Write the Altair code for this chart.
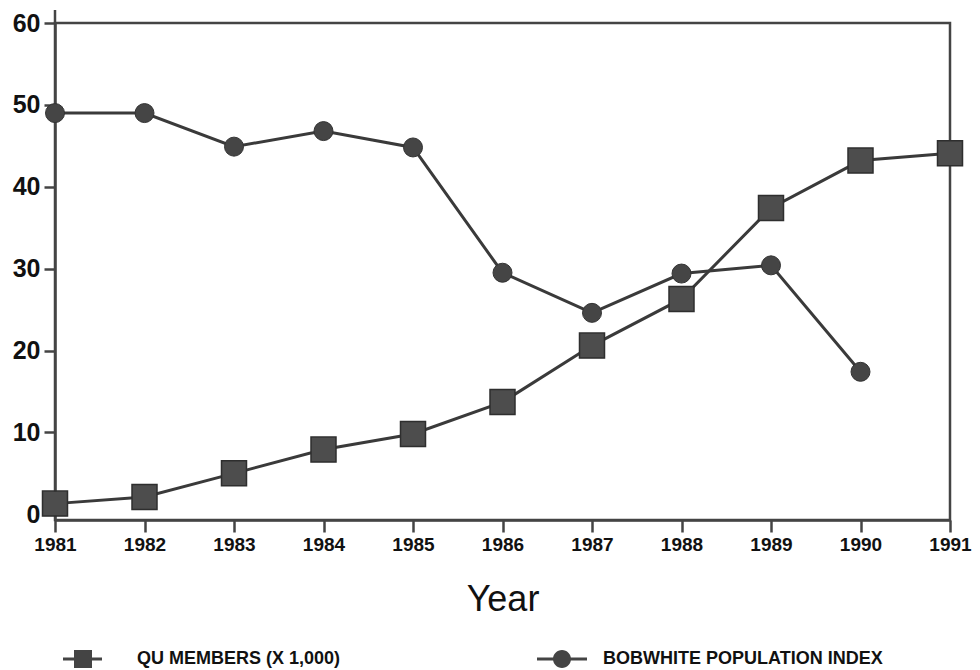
import altair as alt
import pandas as pd

years = [1981, 1982, 1983, 1984, 1985, 1986, 1987, 1988, 1989, 1990, 1991]
qu_members = [1.3, 2.1, 5.0, 7.9, 9.8, 13.7, 20.6, 26.3, 37.4, 43.2, 44.1]
bob_years = [1981, 1982, 1983, 1984, 1985, 1986, 1987, 1988, 1989, 1990]
bobwhite = [49.0, 49.0, 44.9, 46.8, 44.8, 29.5, 24.6, 29.4, 30.4, 17.4]
y_ticks = [0, 10, 20, 30, 40, 50, 60]

S1 = "QU MEMBERS (X 1,000)"
S2 = "BOBWHITE POPULATION INDEX"

df = pd.DataFrame({
    "year": years + bob_years,
    "value": qu_members + bobwhite,
    "series": [S1] * len(years) + [S2] * len(bob_years),
})

FONT = "Liberation Sans"
INK = "#3a3a3a"

x = alt.X("year:Q",
          scale=alt.Scale(domain=[1981, 1991], nice=False, zero=False),
          axis=alt.Axis(values=years, format="d", title="Year",
                        labelFont=FONT, labelFontSize=19, labelFontWeight="bold",
                        labelColor="#111", tickSize=12, labelPadding=3,
                        labelFlush=False, labelOverlap=False,
                        titleFont=FONT, titleFontSize=36, titleFontWeight="normal",
                        titleColor="#111", titlePadding=28))
y = alt.Y("value:Q",
          scale=alt.Scale(domain=[-0.7, 60], nice=False, zero=False),
          axis=alt.Axis(values=y_ticks, title=None,
                        labelFont=FONT, labelFontSize=25, labelFontWeight="bold",
                        labelColor="#111", tickSize=11, labelPadding=4,
                        labelFlush=False))

base = alt.Chart(df)

lines = base.mark_line(color=INK, strokeWidth=3).encode(x=x, y=y, detail="series:N")

squares = base.transform_filter(alt.datum.series == S1).mark_point(
    shape="square", filled=True, size=625, opacity=1,
    color="#4d4d4d", stroke="#2e2e2e", strokeWidth=1.5
).encode(x=x, y=y)

circles = base.transform_filter(alt.datum.series == S2).mark_point(
    shape="circle", filled=True, size=361, opacity=1,
    color="#454545", stroke="#333333", strokeWidth=1
).encode(x=x, y=y)

# legend glyphs: line drawn as a thin filled bar, plus square / circle
path_qu = ("M-1.32,-0.06H0.24V0.06H-1.32Z"
           "M-0.88,-0.36H-0.16V0.36H-0.88Z")
path_bob = ("M-1,-0.06H1V0.06H-1Z"
            "M-0.36,0A0.36,0.36 0 1,1 0.36,0A0.36,0.36 0 1,1 -0.36,0Z")

legend_layer = base.mark_point(filled=True, opacity=0, color="#444").encode(
    x=x, y=y,
    shape=alt.Shape("series:N",
                    scale=alt.Scale(domain=[S1, S2], range=[path_qu, path_bob]),
                    legend=alt.Legend(orient="none", legendX=16, legendY=611,
                                      direction="horizontal", title=None,
                                      symbolSize=2500, symbolOpacity=1,
                                      symbolFillColor="#3d3d3d",
                                      symbolStrokeWidth=0,
                                      labelFont=FONT, labelFontSize=18,
                                      labelFontWeight="bold", labelColor="#111",
                                      labelOffset=16, columnPadding=196, padding=0,
                                      labelLimit=500)))

axis_ext = alt.Chart(pd.DataFrame({"a": [0]})).mark_rule(color="#444", strokeWidth=2.5).encode(
    x=alt.value(0), y=alt.value(-13), y2=alt.value(0))

chart = alt.layer(lines, squares, circles, legend_layer, axis_ext).properties(
    width=895, height=497,
    padding={"left": 47, "top": 15, "right": 22, "bottom": 150},
    autosize="none",
).configure_view(
    stroke="#444", strokeWidth=2.5
).configure_axis(
    grid=False, domainColor="#444", domainWidth=2.5, tickColor="#444", tickWidth=2.5
)

chart.save("out.html", embed_options={"renderer": "svg", "actions": False})
